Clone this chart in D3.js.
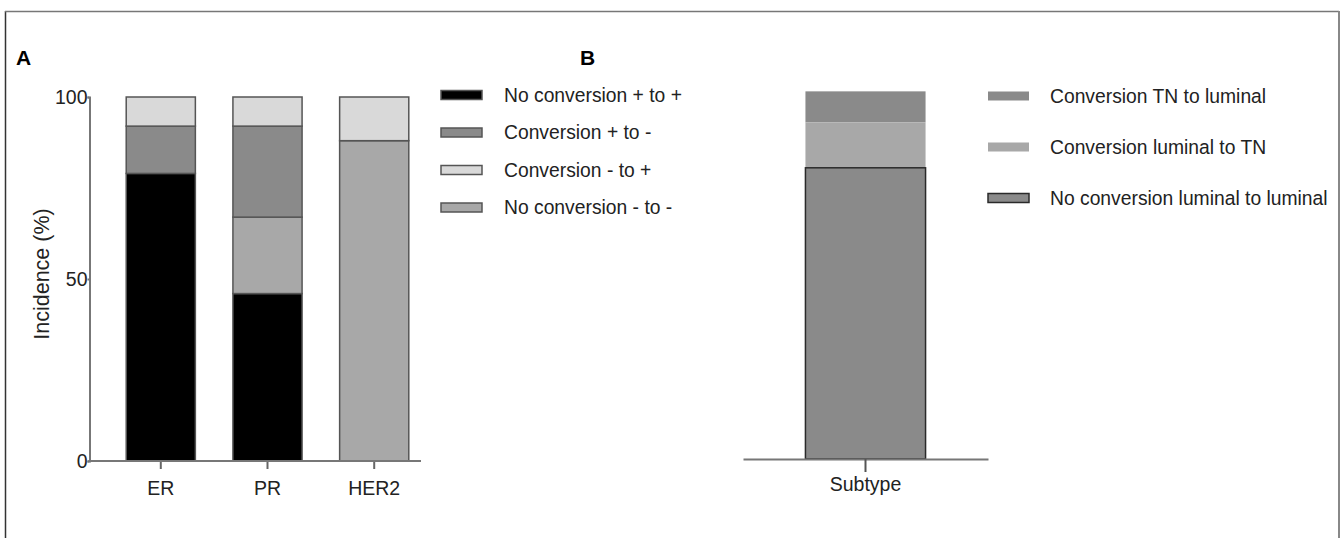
<!DOCTYPE html>
<html lang="en">
<head>
<meta charset="utf-8">
<script src="https://d3js.org/d3.v7.min.js"></script>
<style>
  body { margin: 0; background: #fff; }
  svg text { font-family: "Liberation Sans", Arial, sans-serif; fill: #222; }
</style>
</head>
<body>
<script>
// panel A data: receptor conversion (%), stacked bottom to top
const receptors = ["ER", "PR", "HER2"];
const seriesA = ["No conversion + to +", "No conversion - to -", "Conversion + to -", "Conversion - to +"];
const noConvPlus  = [79, 46, 0];
const noConvMinus = [0, 21, 88];
const convPlusMinus = [13, 25, 0];
const convMinusPlus = [8, 8, 12];
const legendA = ["No conversion + to +", "Conversion + to -", "Conversion - to +", "No conversion - to -"];
const yTicks = [0, 50, 100];

// panel B data: subtype conversion (%), stacked bottom to top
const subtypes = ["Subtype"];
const seriesB = ["No conversion luminal to luminal", "Conversion luminal to TN", "Conversion TN to luminal"];
const noConvLum = [80];
const convLumTN = [12.5];
const convTNLum = [8.5];
const legendB = ["Conversion TN to luminal", "Conversion luminal to TN", "No conversion luminal to luminal"];

const width = 1341, height = 538;

const svg = d3.select("body").append("svg")
    .attr("width", width)
    .attr("height", height);

// frame
svg.append("line").attr("x1", 5.5).attr("y1", 11).attr("x2", 5.5).attr("y2", height)
    .attr("stroke", "#333").attr("stroke-width", 1.5);
svg.append("line").attr("x1", 5).attr("y1", 11.5).attr("x2", 1339).attr("y2", 11.5)
    .attr("stroke", "#777").attr("stroke-width", 1.5);
svg.append("line").attr("x1", 1339).attr("y1", 11).attr("x2", 1339).attr("y2", height)
    .attr("stroke", "#888").attr("stroke-width", 2);

// panel letters
svg.append("text").attr("x", 16).attr("y", 65).text("A")
    .style("font-weight", "bold").style("font-size", "21px").style("fill", "#000");
svg.append("text").attr("x", 580).attr("y", 65).text("B")
    .style("font-weight", "bold").style("font-size", "21px").style("fill", "#000");

// ---------- panel A ----------
const colorA = d3.scaleOrdinal()
    .domain(["No conversion + to +", "Conversion + to -", "Conversion - to +", "No conversion - to -"])
    .range(["#000000", "#8a8a8a", "#d9d9d9", "#a8a8a8"]);

const tableA = receptors.map((r, i) => ({
  cat: r,
  "No conversion + to +": noConvPlus[i],
  "No conversion - to -": noConvMinus[i],
  "Conversion + to -": convPlusMinus[i],
  "Conversion - to +": convMinusPlus[i]
}));

const xA = d3.scaleBand().domain(receptors).range([91, 444]).paddingInner(0.352).paddingOuter(0.33);
const yA = d3.scaleLinear().domain([0, 100]).range([461, 97]);

const stackA = d3.stack().keys(seriesA)(tableA);

const gA = svg.append("g");
gA.selectAll("g.layer")
  .data(stackA)
  .join("g")
    .attr("class", "layer")
    .attr("fill", d => colorA(d.key))
  .selectAll("rect")
  .data(d => d.filter(s => s[1] - s[0] > 0))
  .join("rect")
    .attr("x", d => xA(d.data.cat))
    .attr("y", d => yA(d[1]))
    .attr("width", xA.bandwidth())
    .attr("height", d => yA(d[0]) - yA(d[1]))
    .attr("stroke", "#555")
    .attr("stroke-width", 1.5);

// y axis
const yAxisA = gA.append("g")
    .attr("transform", "translate(89.5,0)")
    .call(d3.axisLeft(yA).tickValues(yTicks).tickSize(2).tickPadding(0));
yAxisA.select(".domain").attr("stroke", "#777").attr("stroke-width", 2);
yAxisA.selectAll(".tick line").attr("stroke", "#777").attr("stroke-width", 2);
yAxisA.selectAll(".tick text").style("font-size", "19.5px").attr("fill", "#222");

// x axis
const xAxisA = gA.append("g")
    .attr("transform", "translate(0,461)")
    .call(d3.axisBottom(xA).tickSize(8).tickPadding(12));
xAxisA.select(".domain").remove();
xAxisA.selectAll(".tick line").attr("stroke", "#666").attr("stroke-width", 2);
xAxisA.selectAll(".tick text").style("font-size", "19.5px").attr("fill", "#222");
gA.append("line").attr("x1", 88.5).attr("x2", 421).attr("y1", 461).attr("y2", 461)
    .attr("stroke", "#777").attr("stroke-width", 2);

gA.append("text")
    .attr("transform", "translate(49,274) rotate(-90)")
    .attr("text-anchor", "middle")
    .style("font-size", "21.5px")
    .text("Incidence (%)");

// legend A
const legA = gA.selectAll("g.legA")
  .data(legendA)
  .join("g")
    .attr("class", "legA")
    .attr("transform", (d, i) => `translate(441,${95 + i * 37.5})`);
legA.append("rect")
    .attr("x", 0).attr("y", -4.5).attr("width", 41).attr("height", 9)
    .attr("fill", d => colorA(d))
    .attr("stroke", "#555").attr("stroke-width", 1.5);
legA.append("text")
    .attr("x", 63).attr("y", 0).attr("dy", "0.35em")
    .style("font-size", "19.3px")
    .text(d => d);

// ---------- panel B ----------
const colorB = d3.scaleOrdinal()
    .domain(seriesB)
    .range(["#8a8a8a", "#a8a8a8", "#8a8a8a"]);
const strokeB = d => d === "No conversion luminal to luminal" ? "#2a2a2a" : "none";

const tableB = subtypes.map((s, i) => ({
  cat: s,
  "No conversion luminal to luminal": noConvLum[i],
  "Conversion luminal to TN": convLumTN[i],
  "Conversion TN to luminal": convTNLum[i]
}));

const xB = d3.scaleBand().domain(subtypes).range([743, 988]).paddingInner(0.342).paddingOuter(0.342);
const yB = d3.scaleLinear().domain([0, 100]).range([459, 95]);

const stackB = d3.stack().keys(seriesB)(tableB);

const gB = svg.append("g");
// draw top layers first so the outlined base sits on top
gB.selectAll("g.layer")
  .data(stackB.slice().reverse())
  .join("g")
    .attr("class", "layer")
    .attr("fill", d => colorB(d.key))
    .attr("stroke", d => strokeB(d.key))
    .attr("stroke-width", 1.5)
  .selectAll("rect")
  .data(d => d)
  .join("rect")
    .attr("x", d => xB(d.data.cat))
    .attr("y", d => yB(d[1]))
    .attr("width", xB.bandwidth())
    .attr("height", d => yB(d[0]) - yB(d[1]));

const xAxisB = gB.append("g")
    .attr("transform", "translate(0,459)")
    .call(d3.axisBottom(xB).tickSize(13).tickPadding(5).tickSizeOuter(0));
xAxisB.select(".domain").attr("stroke", "#777").attr("stroke-width", 2);
xAxisB.selectAll(".tick line").attr("stroke", "#555").attr("stroke-width", 2);
xAxisB.selectAll(".tick text").style("font-size", "19.5px").attr("fill", "#222");

// legend B
const legB = gB.selectAll("g.legB")
  .data(legendB)
  .join("g")
    .attr("class", "legB")
    .attr("transform", (d, i) => `translate(988,${96 + i * 51})`);
legB.append("rect")
    .attr("x", 0).attr("y", -4.5).attr("width", 41).attr("height", 9)
    .attr("fill", d => colorB(d))
    .attr("stroke", d => strokeB(d)).attr("stroke-width", 1.5);
legB.append("text")
    .attr("x", 62).attr("y", 0).attr("dy", "0.35em")
    .style("font-size", "19.3px")
    .text(d => d);
</script>
</body>
</html>
